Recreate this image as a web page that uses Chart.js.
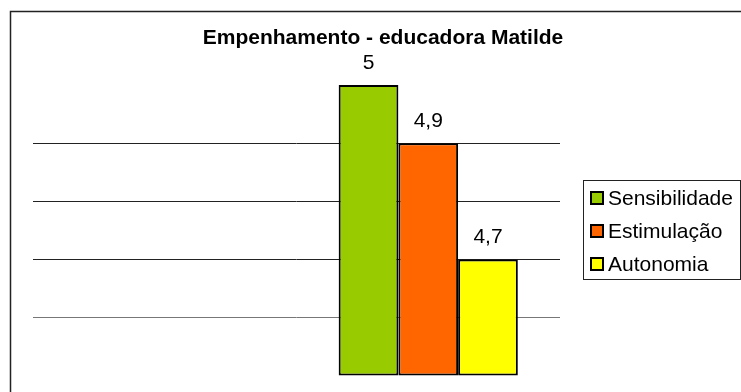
<!DOCTYPE html>
<html>
<head>
<meta charset="utf-8">
<script src="https://cdn.jsdelivr.net/npm/chart.js@4.4.1/dist/chart.umd.min.js"></script>
<style>
  html, body { margin: 0; padding: 0; background: #fff; }
  #wrap { width: 741px; height: 392px; }
</style>
</head>
<body>
<div id="wrap"><canvas id="myChart" width="741" height="392"></canvas></div>
<script>
const title = 'Empenhamento - educadora Matilde';
const categories = ['', 'Matilde'];
const seriesNames = ['Sensibilidade', 'Estimulação', 'Autonomia'];
const sensibilidade = [null, 5];
const estimulacao = [null, 4.9];
const autonomia = [null, 4.7];
const colors = ['#99cc00', '#ff6600', '#ffff00'];
const yMin = 4.5, yMax = 5.0, yStep = 0.1;

const FONT = '"Liberation Sans", Arial, sans-serif';

// frame, title, value labels and boxed legend, drawn like the excel chart
const excelBits = {
    id: 'excelBits',
    afterDraw(chart) {
        const ctx = chart.ctx;
        ctx.save();
        ctx.strokeStyle = '#222';
        ctx.lineWidth = 1.5;
        ctx.strokeRect(10.5, 11.5, 800, 400);

        ctx.fillStyle = '#000';
        ctx.font = 'bold 21px ' + FONT;
        ctx.textAlign = 'center';
        ctx.textBaseline = 'middle';
        ctx.fillText(title, 383, 38);

        ctx.font = '21px ' + FONT;
        chart.data.datasets.forEach((ds, i) => {
            chart.getDatasetMeta(i).data.forEach((bar, j) => {
                const v = ds.data[j];
                if (v === null) return;
                ctx.fillText(String(v).replace('.', ','), bar.x, bar.y - 22);
            });
        });

        // legend
        ctx.lineWidth = 1;
        ctx.strokeStyle = '#222';
        ctx.strokeRect(583.5, 180.5, 157, 99);
        ctx.textAlign = 'left';
        chart.data.datasets.forEach((ds, i) => {
            const cy = 198 + i * 33;
            ctx.fillStyle = ds.backgroundColor;
            ctx.fillRect(590, cy - 7, 14, 14);
            ctx.lineWidth = 2;
            ctx.strokeStyle = '#000';
            ctx.strokeRect(591, cy - 6, 12, 12);
            ctx.fillStyle = '#000';
            ctx.fillText(ds.label, 608, cy + 1);
        });
        ctx.restore();
    }
};

const ctx = document.getElementById('myChart').getContext('2d');
const chart = new Chart(ctx, {
    type: 'bar',
    data: {
        labels: categories,
        datasets: [
            { label: seriesNames[0], data: sensibilidade, backgroundColor: colors[0] },
            { label: seriesNames[1], data: estimulacao, backgroundColor: colors[1] },
            { label: seriesNames[2], data: autonomia, backgroundColor: colors[2] }
        ].map(d => Object.assign(d, {
            base: yMin,
            borderColor: '#000',
            borderWidth: 2,
            borderSkipped: false,
            barPercentage: 1,
            categoryPercentage: 0.68,
            clip: false
        }))
    },
    options: {
        responsive: false,
        animation: false,
        layout: { padding: { left: 33, right: 181, top: 85, bottom: 16 } },
        plugins: {
            legend: { display: false },
            title: { display: false },
            tooltip: { enabled: false }
        },
        scales: {
            x: {
                grid: { display: false },
                ticks: { display: false },
                border: { display: false },
                afterFit: s => { s.height = 0; }
            },
            y: {
                min: yMin,
                max: yMax,
                ticks: { display: false, stepSize: yStep },
                border: { display: false },
                grid: {
                    drawTicks: false,
                    lineWidth: 1,
                    color: c => (c.index === 0 || c.tick.value >= yMax - 0.001) ? 'rgba(0,0,0,0)'
                        : (c.index === 1 ? '#777' : '#222')
                },
                afterFit: s => { s.width = 0; }
            }
        }
    },
    plugins: [excelBits]
});
</script>
</body>
</html>
